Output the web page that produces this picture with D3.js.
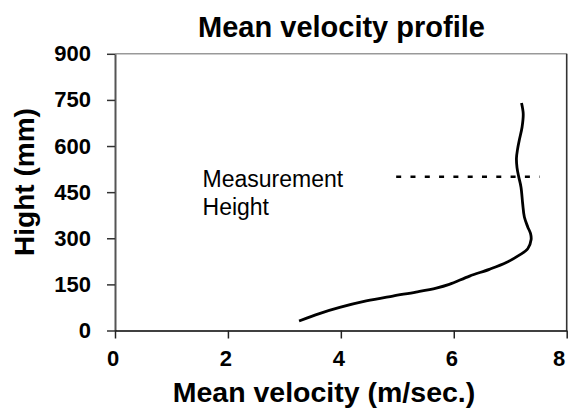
<!DOCTYPE html>
<html>
<head>
<meta charset="utf-8">
<script src="https://cdn.jsdelivr.net/npm/d3@7"></script>
<style>
  body { margin: 0; background: #fff; }
  svg { display: block; font-family: "Liberation Sans", Arial, sans-serif; }
</style>
</head>
<body>
<svg id="chart"></svg>
<script>
// Mean velocity profile
const velocity = [3.26, 3.62, 3.98, 4.45, 4.92, 5.33, 5.69, 5.92, 6.28, 6.63, 6.93, 7.16, 7.31, 7.37,
  7.36, 7.31, 7.25, 7.22, 7.19, 7.15, 7.12, 7.11, 7.13, 7.16, 7.21, 7.23, 7.20];
const heightMm = [31, 55, 75, 96, 112, 125, 138, 150, 177, 199, 221, 245, 266, 296,
  315, 337, 369, 413, 467, 500, 530, 560, 590, 619, 662, 705, 740];

// dotted marker of the measurement height
const measureHeight = 500;
const measureRange = [4.98, 7.52];

const xTicks = [0, 2, 4, 6, 8];
const yTicks = [0, 150, 300, 450, 600, 750, 900];

const W = 569, H = 409;
const plot = { left: 115, right: 566.7, top: 53.8, bottom: 330.5 };

const svg = d3.select("#chart").attr("width", W).attr("height", H);

// scales
const xscale = d3.scaleLinear().domain([0, 8]).range([plot.left, plot.right]);
const yscale = d3.scaleLinear().domain([0, 900]).range([plot.bottom, plot.top]);

// plot frame (top and right)
svg.append("line")
  .attr("x1", plot.left).attr("x2", plot.right)
  .attr("y1", plot.top).attr("y2", plot.top)
  .attr("stroke", "#999").attr("stroke-width", 1.6);
svg.append("line")
  .attr("x1", plot.right).attr("x2", plot.right)
  .attr("y1", plot.top).attr("y2", plot.bottom)
  .attr("stroke", "#333").attr("stroke-width", 1.6);

// axes
const yaxis = d3.axisLeft(yscale).tickValues(yTicks).tickSize(8).tickSizeOuter(0).tickPadding(16);
const g_yaxis = svg.append("g").attr("transform", `translate(${plot.left},0)`).call(yaxis);
g_yaxis.select(".domain").attr("stroke", "#555").attr("stroke-width", 2);
g_yaxis.selectAll(".tick line").attr("stroke", "#333").attr("stroke-width", 1.5);
g_yaxis.selectAll(".tick text")
  .attr("font-size", 22).attr("font-weight", "bold").attr("fill", "#000")
  .attr("font-family", "Liberation Sans, Arial, sans-serif");

const xaxis = d3.axisBottom(xscale).tickValues(xTicks).tickSize(8).tickSizeOuter(0).tickPadding(11.5);
const g_xaxis = svg.append("g").attr("transform", `translate(0,${plot.bottom})`).call(xaxis);
g_xaxis.select(".domain").attr("stroke", "#000").attr("stroke-width", 1.6);
g_xaxis.selectAll(".tick line").attr("stroke", "#222").attr("stroke-width", 1.5);
// the last label sits at the right edge, pull it in so it stays whole
g_xaxis.selectAll(".tick text")
  .attr("font-size", 22).attr("font-weight", "bold").attr("fill", "#000")
  .attr("dx", (d) => (d === 8 ? -8 : -2.5))
  .attr("font-family", "Liberation Sans, Arial, sans-serif");

// velocity profile line
const points = velocity.map((v, i) => ({ v: v, h: heightMm[i] }));
const line = d3.line()
  .x((d) => xscale(d.v))
  .y((d) => yscale(d.h))
  .curve(d3.curveCatmullRom);
svg.append("path")
  .datum(points)
  .attr("d", line)
  .attr("fill", "none")
  .attr("stroke", "#000")
  .attr("stroke-width", 2.8)
  .attr("stroke-linejoin", "round");

// measurement height marker
svg.append("line")
  .attr("x1", xscale(measureRange[0])).attr("x2", xscale(measureRange[1]))
  .attr("y1", yscale(measureHeight)).attr("y2", yscale(measureHeight))
  .attr("stroke", "#000").attr("stroke-width", 2.6)
  .attr("stroke-dasharray", "5,9.3");

const note = svg.append("text")
  .attr("x", xscale(1.55)).attr("y", yscale(467))
  .attr("font-size", 23).attr("fill", "#000");
note.append("tspan").attr("x", xscale(1.55)).text("Measurement");
note.append("tspan").attr("x", xscale(1.55)).attr("dy", 27.6).text("Height");

// titles
svg.append("text")
  .attr("x", 341.5).attr("y", 36.5)
  .attr("text-anchor", "middle")
  .attr("font-size", 29).attr("font-weight", "bold")
  .text("Mean velocity profile");

svg.append("text")
  .attr("x", 324).attr("y", 402)
  .attr("text-anchor", "middle")
  .attr("font-size", 28.5).attr("font-weight", "bold")
  .text("Mean velocity (m/sec.)");

svg.append("text")
  .attr("transform", "translate(33.5,182) rotate(-90)")
  .attr("text-anchor", "middle")
  .attr("font-size", 28).attr("font-weight", "bold")
  .text("Hight (mm)");
</script>
</body>
</html>
